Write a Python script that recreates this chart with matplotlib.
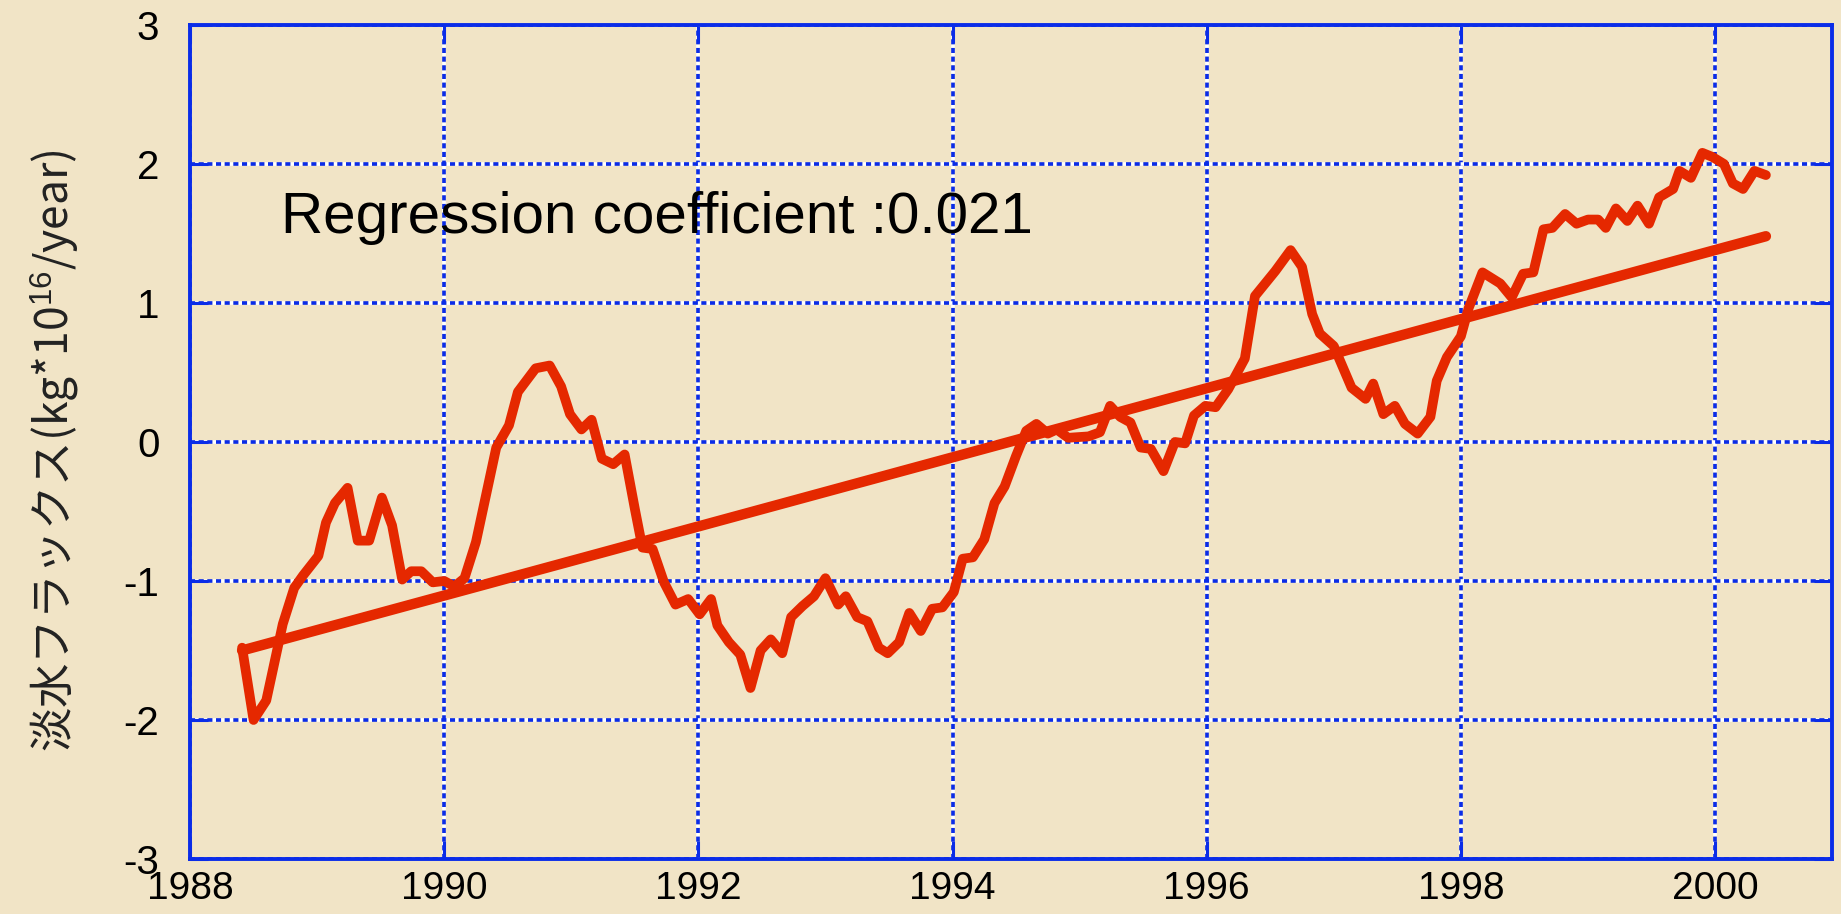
import matplotlib
matplotlib.use("Agg")
from matplotlib import pyplot as plt

plt.rcParams['font.family'] = ['Liberation Sans', 'Noto Sans CJK JP', 'DejaVu Sans']
plt.rcParams['axes.unicode_minus'] = False
plt.rcParams['mathtext.fontset'] = 'custom'
plt.rcParams['mathtext.rm'] = 'Liberation Sans'

# flusso di acqua dolce
anni = [1988.41, 1988.50, 1988.60, 1988.73, 1988.82, 1988.89, 1989.01, 1989.07, 1989.14, 1989.24,
        1989.32, 1989.41, 1989.51, 1989.59, 1989.67, 1989.74, 1989.82, 1989.91, 1990.00, 1990.08,
        1990.16, 1990.25, 1990.41, 1990.51, 1990.58, 1990.72, 1990.83, 1990.92, 1990.99, 1991.08,
        1991.16, 1991.24, 1991.33, 1991.42, 1991.50, 1991.56, 1991.64, 1991.73, 1991.82, 1991.92,
        1992.01, 1992.10, 1992.15, 1992.24, 1992.33, 1992.41, 1992.49, 1992.57, 1992.66, 1992.73,
        1992.82, 1992.91, 1993.00, 1993.10, 1993.16, 1993.25, 1993.33, 1993.42, 1993.49, 1993.58,
        1993.66, 1993.75, 1993.84, 1993.92, 1994.01, 1994.08, 1994.16, 1994.25, 1994.33, 1994.41,
        1994.50, 1994.58, 1994.66, 1994.75, 1994.82, 1994.91, 1995.07, 1995.16, 1995.24, 1995.32,
        1995.40, 1995.48, 1995.56, 1995.66, 1995.75, 1995.83, 1995.90, 1995.99, 1996.07, 1996.17,
        1996.30, 1996.38, 1996.54, 1996.66, 1996.75, 1996.83, 1996.89, 1997.00, 1997.14, 1997.25,
        1997.31, 1997.39, 1997.48, 1997.56, 1997.66, 1997.76, 1997.81, 1997.89, 1998.00, 1998.06,
        1998.17, 1998.31, 1998.40, 1998.49, 1998.57, 1998.65, 1998.72, 1998.82, 1998.91, 1999.00,
        1999.08, 1999.14, 1999.22, 1999.31, 1999.39, 1999.48, 1999.56, 1999.67, 1999.72, 1999.81,
        1999.90, 1999.98, 2000.07, 2000.14, 2000.22, 2000.31, 2000.40]
flusso = [-1.48, -2.00, -1.86, -1.31, -1.05, -0.96, -0.82, -0.58, -0.44, -0.33,
          -0.71, -0.71, -0.40, -0.60, -0.99, -0.93, -0.93, -1.01, -1.00, -1.04,
          -0.98, -0.72, -0.04, 0.12, 0.36, 0.53, 0.55, 0.40, 0.20, 0.09,
          0.16, -0.12, -0.16, -0.09, -0.48, -0.76, -0.77, -1.01, -1.17, -1.13,
          -1.24, -1.13, -1.32, -1.44, -1.53, -1.77, -1.50, -1.42, -1.52, -1.26,
          -1.18, -1.11, -0.98, -1.17, -1.11, -1.26, -1.29, -1.48, -1.52, -1.44,
          -1.23, -1.36, -1.20, -1.19, -1.08, -0.84, -0.83, -0.70, -0.44, -0.32,
          -0.10, 0.08, 0.13, 0.06, 0.09, 0.03, 0.04, 0.07, 0.26, 0.18,
          0.14, -0.04, -0.05, -0.21, 0.00, -0.01, 0.19, 0.26, 0.25, 0.38,
          0.60, 1.05, 1.23, 1.38, 1.26, 0.92, 0.78, 0.69, 0.39, 0.31,
          0.42, 0.20, 0.26, 0.13, 0.06, 0.18, 0.44, 0.61, 0.76, 0.96,
          1.22, 1.14, 1.04, 1.21, 1.22, 1.53, 1.54, 1.64, 1.57, 1.60,
          1.60, 1.54, 1.68, 1.59, 1.70, 1.57, 1.76, 1.82, 1.95, 1.90,
          2.08, 2.05, 2.00, 1.86, 1.82, 1.95, 1.92]

# retta di regressione (estremi)
anni_reg = [1988.41, 2000.40]
flusso_reg = [-1.50, 1.48]

tick_x = [1988, 1990, 1992, 1994, 1996, 1998, 2000]
tick_y = [-3, -2, -1, 0, 1, 2, 3]

sfondo = '#F1E4C6'
blu = '#0A2CE8'
rosso = '#E52800'

fig = plt.figure(figsize=(18.41, 9.14), dpi=100, facecolor=sfondo)
ax = fig.add_axes([0.1032, 0.0602, 0.8919, 0.9125], facecolor=sfondo)

ax.plot(anni, flusso, color=rosso, lw=7, solid_capstyle='round', solid_joinstyle='round', zorder=4)
ax.plot(anni_reg, flusso_reg, color=rosso, lw=7.5, solid_capstyle='round', zorder=4)

ax.text(1988.72, 1.50, "Regression coefficient :0.021", fontsize=42, color='black', va='baseline', zorder=5)

ax.set_xlim(1988, 2000.92)
ax.set_ylim(-3, 3)
ax.set_xticks(tick_x)
ax.set_yticks(tick_y)
ax.set_xticklabels([str(t) for t in tick_x])
ax.set_yticklabels([str(t) for t in tick_y])

ax.grid(True, color=blu, lw=2.6, linestyle=(0, (1.4, 1.0)), gapcolor='white', zorder=1)
ax.set_axisbelow(True)

ax.tick_params(axis='both', direction='in', length=13, width=2.2, color=blu,
               top=True, right=True, labelsize=29)
ax.tick_params(axis='x', pad=9, labelsize=28)
ax.tick_params(axis='y', pad=22)
for s in ax.spines.values():
    s.set_color(blu)
    s.set_linewidth(2.8)

ax.set_ylabel('淡水フラックス(kg*10$^{16}$/year)', fontsize=32, color='#222222',
              family=['Noto Sans CJK JP', 'Liberation Sans'])
ax.yaxis.set_label_coords(-0.066, 0.49)

plt.savefig('out.png', dpi=100, facecolor=sfondo)
